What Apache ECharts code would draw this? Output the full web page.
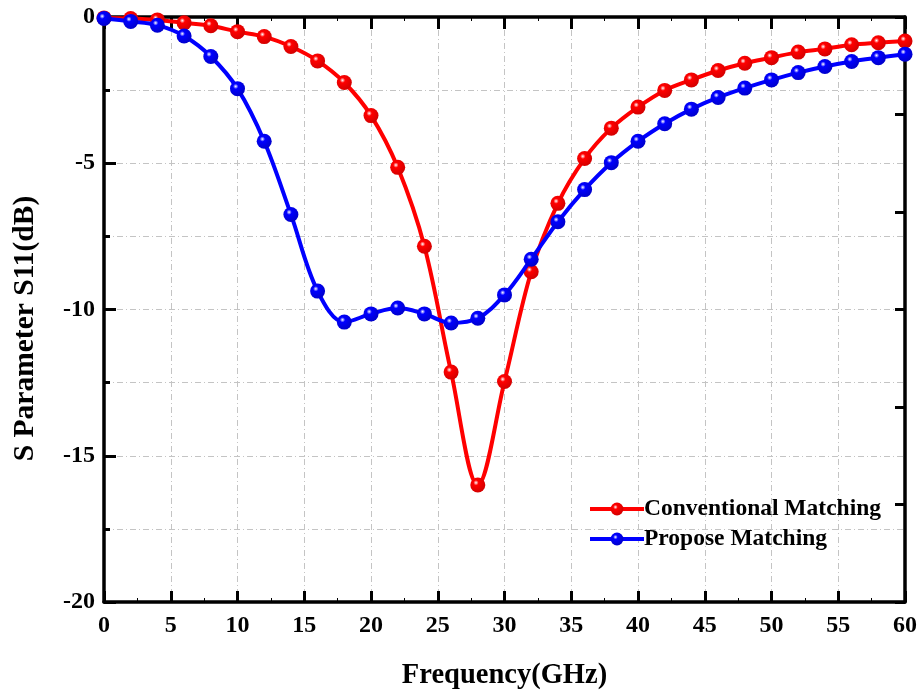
<!DOCTYPE html>
<html>
<head>
<meta charset="utf-8">
<script src="https://cdn.jsdelivr.net/npm/echarts@6/dist/echarts.min.js"></script>
<style>
html,body{margin:0;padding:0;background:#fff;}
#chart{width:922px;height:695px;}
</style>
</head>
<body>
<div id="chart"></div>
<script>
// Frequency (GHz)
const freq = [0,2,4,6,8,10,12,14,16,18,20,22,24,26,28,30,32,34,36,38,40,42,44,46,48,50,52,54,56,58,60];
// S11 (dB)
const conventional = [-0.03,-0.05,-0.1,-0.2,-0.3,-0.5,-0.67,-1.01,-1.5,-2.24,-3.37,-5.14,-7.84,-12.14,-16.0,-12.46,-8.71,-6.37,-4.84,-3.8,-3.08,-2.51,-2.15,-1.83,-1.58,-1.39,-1.2,-1.09,-0.95,-0.88,-0.82];
const propose = [-0.05,-0.15,-0.28,-0.65,-1.35,-2.45,-4.25,-6.75,-9.37,-10.43,-10.15,-9.95,-10.15,-10.46,-10.3,-9.5,-8.28,-7.0,-5.9,-4.98,-4.25,-3.65,-3.15,-2.75,-2.43,-2.15,-1.9,-1.69,-1.52,-1.39,-1.27];
const seriesNames = ['Conventional Matching','Propose Matching'];
const xTitle = 'Frequency(GHz)';
const yTitle = 'S Parameter S11(dB)';

const FONT = '"Liberation Serif","Times New Roman",serif';
const gridLine = {show:true, lineStyle:{color:'#c4c4c4', width:1, type:[6,3,1,3]}};
function sphere(c, dark){
  return {type:'radial', x:0.38, y:0.35, r:0.7,
    colorStops:[{offset:0,color:'#ffffff'},{offset:0.25,color:c},{offset:1,color:dark}]};
}
const chart = echarts.init(document.getElementById('chart'));
chart.setOption({
  backgroundColor:'#fff',
  animation:false,
  grid:{left:104, right:17, top:17, bottom:91, containLabel:false},
  legend:{
    left:583, top:492, orient:'vertical', itemGap:6,
    itemWidth:54, itemHeight:16,
    lineStyle:{width:4},
    textStyle:{fontFamily:FONT, fontWeight:'bold', fontSize:23.5, color:'#000', padding:[0,0,0,-5]},
    data:seriesNames
  },
  xAxis:[{
    type:'value', min:0, max:60, interval:5, position:'bottom',
    name:xTitle, nameLocation:'middle', nameGap:59,
    nameTextStyle:{fontFamily:FONT, fontWeight:'bold', fontSize:28.5, color:'#000'},
    axisLine:{show:true, onZero:false, lineStyle:{color:'#000', width:3.5}},
    axisTick:{show:true, inside:true, length:11, lineStyle:{color:'#000', width:3}},
    minorTick:{show:true, splitNumber:2, length:4, lineStyle:{color:'#000', width:1}},
    axisLabel:{fontFamily:FONT, fontWeight:'bold', fontSize:24, color:'#000', margin:12},
    splitLine:gridLine
  },{
    type:'value', min:0, max:60, interval:5, position:'top',
    axisLine:{show:true, onZero:false, lineStyle:{color:'#000', width:3.5}},
    axisTick:{show:true, inside:true, length:12, lineStyle:{color:'#000', width:3}},
    minorTick:{show:true, splitNumber:2, length:4, lineStyle:{color:'#000', width:1}},
    axisLabel:{show:false}, splitLine:{show:false}
  }],
  yAxis:[{
    type:'value', min:-20, max:0, interval:5, position:'left',
    name:yTitle, nameLocation:'middle', nameGap:64, nameRotate:90,
    nameTextStyle:{fontFamily:FONT, fontWeight:'bold', fontSize:29.5, color:'#000', padding:[0,0,0,-38]},
    axisLine:{show:true, onZero:false, lineStyle:{color:'#000', width:3.5}},
    axisTick:{show:true, inside:true, length:12, lineStyle:{color:'#000', width:3}},
    minorTick:{show:true, splitNumber:2, length:6, lineStyle:{color:'#000', width:3}},
    axisLabel:{fontFamily:FONT, fontWeight:'bold', fontSize:24, color:'#000', margin:9},
    splitLine:gridLine,
    minorSplitLine:gridLine
  },{
    type:'value', min:-6, max:0, interval:1, position:'right',
    axisLine:{show:true, onZero:false, lineStyle:{color:'#000', width:3.5}},
    axisTick:{show:true, inside:true, length:10, lineStyle:{color:'#000', width:3}},
    axisLabel:{show:false}, splitLine:{show:false}
  }],
  series:[{
    name:seriesNames[0], type:'line', smooth:0.35,
    data:freq.map((f,i)=>[f,conventional[i]]),
    symbol:'circle', symbolSize:15,
    lineStyle:{color:'#ff0000', width:4},
    itemStyle:{color:sphere('#ff0000','#d00000'), borderWidth:0},
    z:3
  },{
    name:seriesNames[1], type:'line', smooth:0.35,
    data:freq.map((f,i)=>[f,propose[i]]),
    symbol:'circle', symbolSize:15,
    lineStyle:{color:'#0000ff', width:4},
    itemStyle:{color:sphere('#0000ff','#0000c8'), borderWidth:0},
    z:4
  }]
});
</script>
</body>
</html>
